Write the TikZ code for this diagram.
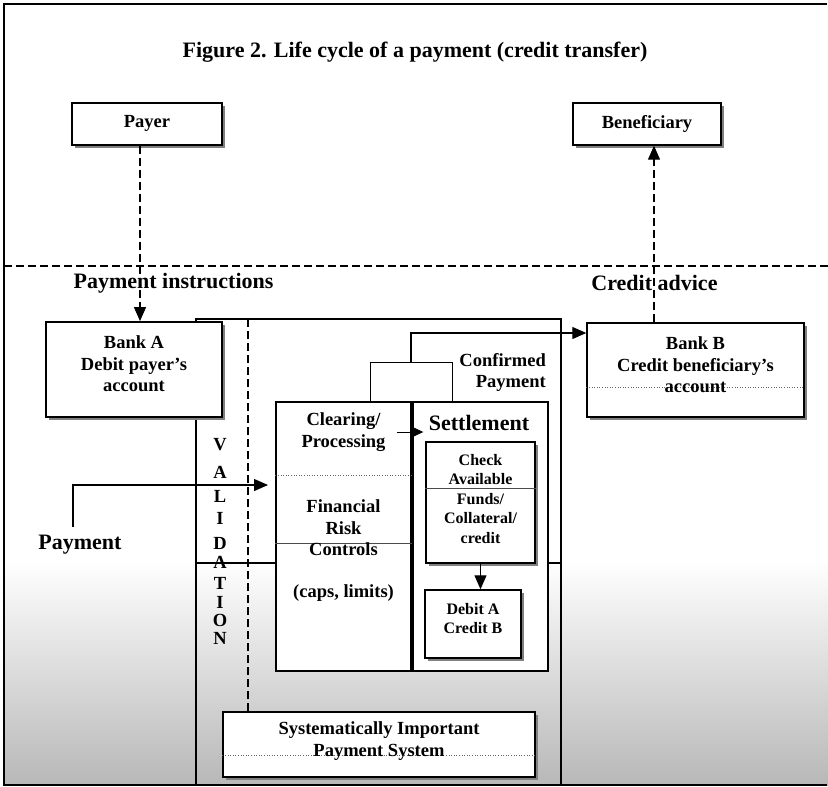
\documentclass[tikz,border=0pt]{standalone}
\usepackage{fontspec}
\setmainfont{Liberation Serif}
\usetikzlibrary{arrows.meta,shadows}

\begin{document}
\begin{tikzpicture}[x=1pt,y=-1pt,
  lbl/.style={font=\fontsize{18.5}{21.5}\selectfont\bfseries, align=center, inner sep=0pt},
  big/.style={font=\fontsize{22}{26}\selectfont\bfseries, align=center, inner sep=0pt},
  small/.style={font=\fontsize{16}{19.5}\selectfont\bfseries, align=center, inner sep=0pt},
  box/.style={draw, line width=1.4pt, fill=white, inner sep=0pt},
  sbox/.style={box, drop shadow={shadow xshift=2.5pt, shadow yshift=-2.5pt, fill=black!50, opacity=1}},
  tip/.style={-{Triangle[length=14pt,width=12pt]}},
  dline/.style={line width=1.1pt, dash pattern=on 8pt off 4pt},
  conn/.style={line width=1.2pt},
  faint/.style={line width=0.6pt, black!60, dotted},
  hair/.style={line width=0.6pt, black!70}
]
\useasboundingbox (0,0) rectangle (828,787);

% tone of the lower part of the sheet
\shade[top color=white, bottom color=black!28] (4,560) rectangle (828,785);

% sheet frame
\coordinate (fTR) at (827,4);
\coordinate (fTL) at (4,4);
\coordinate (fBL) at (4,785);
\coordinate (fBR) at (827,785);
\draw[line width=1.5pt] (fTR) -- (fTL) -- (fBL) -- (fBR);

% title
\node[big] (title) at (415,52) {Figure 2. Life cycle of a payment (credit transfer)};

% boundary between customers and banks
\coordinate (hl) at (4,266);
\coordinate (hr) at (828,266);
\draw[dline] (hl) -- (hr);
\node[big] (instr) at (173.5,283) {Payment instructions};
\node[big] (advice) at (654.5,283) {Credit advice};

% payment system frame
\node[draw, line width=1.4pt, minimum width=365pt, minimum height=466pt, inner sep=0pt] (sys) at (378.5,552) {};
\coordinate (vd) at (248,319);

% horizontal rule through the system
\draw[conn] (sys.west |- 0,563) -- (sys.east |- 0,563);

% confirmed payment bracket
\node[draw, line width=1pt, minimum width=82pt, minimum height=40pt, inner sep=0pt] (confirm) at (411,382) {};

% clearing and settlement
\node[box, minimum width=135pt, minimum height=269pt] (clearing) at (343.5,536.5) {};
\node[box, minimum width=135pt, minimum height=269pt] (settle) at (480.5,536.5) {};
\node[sbox, minimum width=109pt, minimum height=121pt] (check) at (480.5,502.5) {};
\node[sbox, minimum width=96pt, minimum height=68pt] (debit) at (473,624) {};
\node[sbox, minimum width=312pt, minimum height=65pt] (sips) at (379,744.5) {};

% validation boundary
\draw[dline] (vd) -- (vd |- sips.north);

% banks and customers
\node[sbox, line width=1.8pt, minimum width=176pt, minimum height=95pt] (bankA) at (134,369.5) {};
\node[sbox, minimum width=217pt, minimum height=94pt] (bankB) at (695.5,370) {};
\node[sbox, minimum width=150pt, minimum height=42pt] (payer) at (147,124) {};
\node[sbox, minimum width=148pt, minimum height=42pt] (benef) at (647,124) {};

% faint rules inside boxes
\draw[faint] (clearing.west |- 0,475) -- (clearing.east |- 0,475);
\draw[hair] (clearing.west |- 0,543) -- (clearing.east |- 0,543);
\draw[hair] (check.west |- 0,488) -- (check.east |- 0,488);
\draw[faint] (bankB.west |- 0,387) -- (bankB.east |- 0,387);
\draw[faint] (sips.west |- 0,755) -- (sips.east |- 0,755);

% texts
\node[lbl] (payerT) at (147,123) {Payer};
\node[lbl] (benefT) at (647,124) {Beneficiary};
\node[lbl] (bankAT) at (134,364) {Bank A\\Debit payer's\\account};
\node[lbl] (bankBT) at (695.5,365) {Bank B\\Credit beneficiary's\\account};
\node[lbl, align=right, anchor=east] (confT) at (546,372.5) {Confirmed\\Payment};
\node[lbl] (clearT) at (343.5,432) {Clearing/\\Processing};
\node[big] (settleT) at (479,423) {Settlement};
\node[lbl] (riskT) at (343.5,528) {Financial\\Risk\\Controls};
\node[lbl] (capsT) at (343.5,593) {(caps, limits)};
\node[small] (checkT) at (480.5,499) {Check\\Available\\Funds/\\Collateral/\\credit};
\node[small] (debitT) at (473,618.5) {Debit A\\Credit B};
\node[lbl] (sipsT) at (379,741) {Systematically Important\\Payment System};
\node[big] (payT) at (80,545) {Payment};

% the word VALIDATION, one letter under another
\foreach \ch/\yy [count=\k] in {V/445,A/472,L/496,I/518,D/543,A/562,T/583,I/602,O/620,N/638}
  \node[lbl] (val\k) at (220,\yy) {\ch};

% connectors
\draw[dline, tip] ([xshift=-7pt]payer.south) -- ([xshift=-7pt]payer.south |- bankA.north);
\draw[dline, tip] ([xshift=7pt]benef.south |- bankB.north) -- ([xshift=7pt]benef.south);
\draw[conn, tip] (confirm.north) |- ([yshift=37pt]bankB.west);
\coordinate (clrA) at (397,432);
\draw[line width=0.8pt, -{Triangle[length=13pt,width=12pt]}] (clrA) -- ([xshift=11pt]settle.west |- clrA);
\draw[conn, tip] (check.south) -- (check.south |- debit.north);
\coordinate (payStart) at (73,527);
\coordinate (payTip) at (268,485);
\draw[conn, tip] (payStart) |- (payTip);
\end{tikzpicture}
\end{document}
